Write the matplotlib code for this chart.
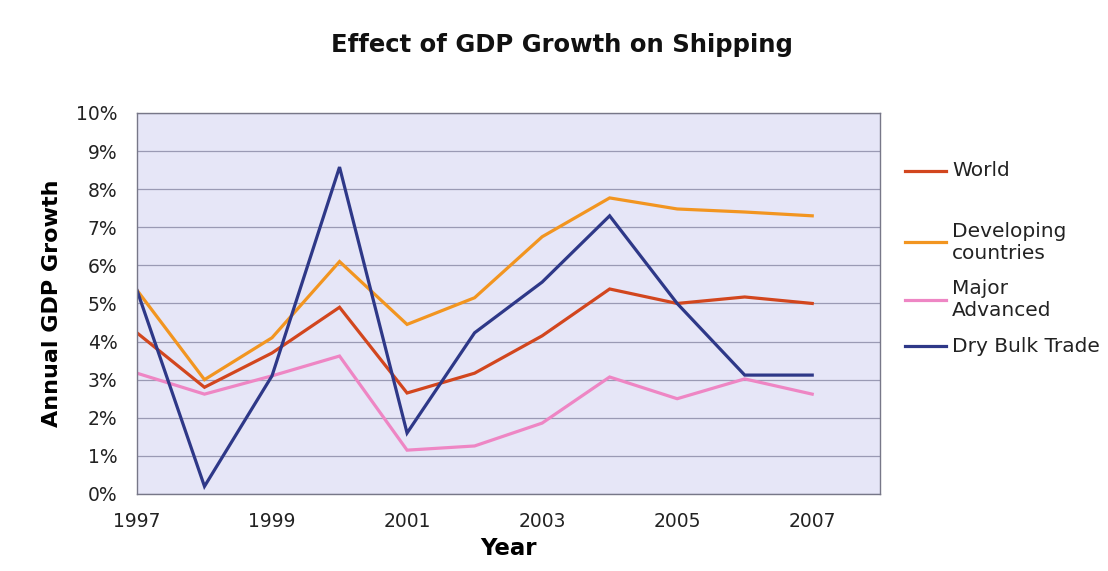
import matplotlib
matplotlib.use("Agg")
import matplotlib.pyplot as plt
from matplotlib.lines import Line2D
from matplotlib.ticker import FuncFormatter

years = [1997, 1998, 1999, 2000, 2001, 2002, 2003, 2004, 2005, 2006, 2007]
world = [4.23, 2.8, 3.7, 4.9, 2.65, 3.17, 4.15, 5.38, 5.0, 5.17, 5.0]
developing = [5.35, 3.0, 4.1, 6.1, 4.45, 5.15, 6.75, 7.77, 7.48, 7.4, 7.3]
major_advanced = [3.17, 2.62, 3.1, 3.62, 1.15, 1.26, 1.86, 3.07, 2.5, 3.02, 2.62]
dry_bulk = [5.35, 0.2, 3.1, 8.58, 1.6, 4.23, 5.56, 7.3, 5.0, 3.12, 3.12]

series_names = ["World", "Developing\ncountries", "Major\nAdvanced", "Dry Bulk Trade"]
series_colors = ["#D2461E", "#F29520", "#EE86C4", "#2E3888"]
x_ticks = [1997, 1999, 2001, 2003, 2005, 2007]

plt.rcParams["font.family"] = ["DejaVu Sans"]

W, H = 1108, 571
fig = plt.figure(figsize=(W / 100, H / 100), dpi=100)
ax = fig.add_axes([0.1236, 0.1349, 0.6704, 0.6673])
ax.set_facecolor("#E6E6F7")

for vals, name, col in zip([world, developing, major_advanced, dry_bulk],
                           series_names, series_colors):
    ax.plot(years, vals, color=col, lw=2.3, label=name, solid_joinstyle="miter")

ax.set_xlim(1997, 2008)
ax.set_ylim(0, 10)
ax.set_yticks(range(0, 11))
ax.yaxis.set_major_formatter(FuncFormatter(lambda v, p: f"{v:.0f}%"))
ax.set_xticks(x_ticks)
ax.tick_params(axis="both", length=0, labelsize=13.5, colors="#222222")
ax.tick_params(axis="x", pad=13)
ax.tick_params(axis="y", pad=14)
ax.grid(axis="y", color="#9A9AB4", lw=0.9)
ax.set_axisbelow(True)
for s in ax.spines.values():
    s.set_color("#777788")
    s.set_linewidth(1.0)

ax.set_xlabel("Year", fontsize=16.5, fontweight="bold", labelpad=4)
ax.set_ylabel("Annual GDP Growth", fontsize=16, fontweight="bold", labelpad=10)
fig.text(0.507, 0.921, "Effect of GDP Growth on Shipping", ha="center",
         va="center", fontsize=17.5, fontweight="bold", color="#111111")

# legend drawn by hand to follow the uneven spacing of the original
leg_y = [171, 242, 300, 346]
for name, col, yy in zip(series_names, series_colors, leg_y):
    fy = 1 - yy / H
    fig.add_artist(Line2D([905 / W, 946 / W], [fy, fy], color=col, lw=2.3,
                          transform=fig.transFigure))
    fig.text(952 / W, fy, name, ha="left", va="center", fontsize=14.5,
             color="#222222", linespacing=1.2)

fig.savefig("out.png", dpi=100)
